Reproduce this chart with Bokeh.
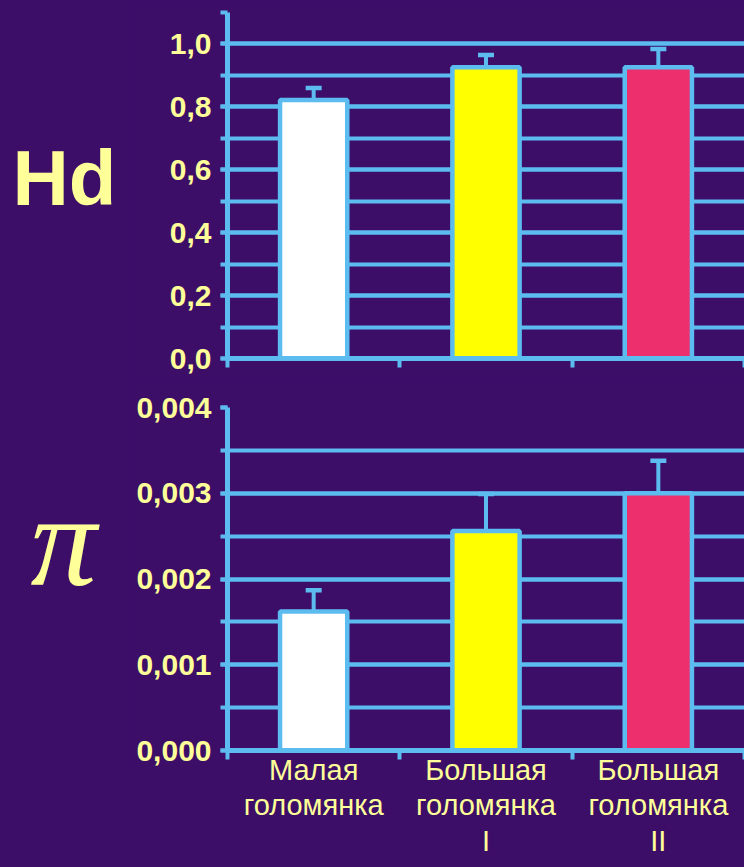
from bokeh.plotting import figure
from bokeh.models import (Range1d, FixedTicker, CustomJSTickFormatter, ColumnDataSource,
                          Whisker, TeeHead)
from bokeh.layouts import column, row
from bokeh.embed import file_html
from bokeh.resources import INLINE
from bokeh.core.properties import value

# ---- data ----
categories = ["Малая голомянка", "Большая голомянка I", "Большая голомянка II"]
category_labels = ["Малая\nголомянка", "Большая\nголомянка\nI", "Большая\nголомянка\nII"]
bar_colors = ["#ffffff", "#ffff00", "#ee2f6e"]

hd_values = [0.822, 0.926, 0.926]
hd_upper = [0.860, 0.965, 0.984]
hd_lower = [0.757, 0.895, 0.895]

pi_values = [0.00162, 0.00256, 0.00300]
pi_upper = [0.00187, 0.00299, 0.00338]
pi_lower = [0.00143, 0.00218, 0.00256]

hd_ticks = [0.0, 0.2, 0.4, 0.6, 0.8, 1.0]
hd_minor = [0.0, 0.1, 0.2, 0.3, 0.4, 0.5, 0.6, 0.7, 0.8, 0.9, 1.0, 1.1]
pi_ticks = [0.0, 0.001, 0.002, 0.003, 0.004]
pi_minor = [0.0, 0.0005, 0.001, 0.0015, 0.002, 0.0025, 0.003, 0.0035, 0.004]

panel_titles = ["Hd", "π"]

# ---- style ----
BG = "#3c0e68"
BLUE = "#5cbcf0"
YEL = "#ffff99"
LEFT_W = 130
W = 744 - LEFT_W
H1, H2 = 380, 387
OVERLAP = 14
H3 = 867 - H1 - H2 + OVERLAP

xpos = [i + 0.5 for i in range(len(categories))]


def style_bg(p):
    p.background_fill_color = BG
    p.border_fill_color = BG
    p.outline_line_color = None


def make_fig(height, ymax, ticks, minor, values, upper, lower, decimals,
             border_top, border_bottom):
    p = figure(width=W, height=height, x_range=Range1d(0, 3), y_range=Range1d(0, ymax),
               output_backend="svg", toolbar_location=None,
               min_border_left=227 - LEFT_W, min_border_right=0,
               min_border_top=border_top, min_border_bottom=border_bottom)
    style_bg(p)

    src = ColumnDataSource(dict(x=xpos, top=values, color=bar_colors,
                                upper=upper, lower=lower, cat=categories))
    p.vbar(x="x", top="top", bottom=0, width=0.39, fill_color="color",
           line_color=BLUE, line_width=4.5, source=src)
    wh = Whisker(base="x", upper="upper", lower="lower", source=src,
                 line_color=BLUE, line_width=4,
                 upper_head=TeeHead(size=16, line_color=BLUE, line_width=4.5),
                 lower_head=TeeHead(size=16, line_color=BLUE, line_width=4.5))
    p.add_layout(wh)

    # y axis
    ya = p.yaxis[0]
    ya.ticker = FixedTicker(ticks=ticks, minor_ticks=minor)
    ya.formatter = CustomJSTickFormatter(
        args=dict(d=decimals), code="return tick.toFixed(d).replace('.', ',');")
    ya.axis_line_color = BLUE
    ya.axis_line_width = 5
    ya.major_tick_line_color = BLUE
    ya.major_tick_line_width = 4
    ya.major_tick_in = 0
    ya.major_tick_out = 7
    ya.minor_tick_line_color = BLUE
    ya.minor_tick_line_width = 4
    ya.minor_tick_in = 0
    ya.minor_tick_out = 7
    ya.major_label_text_color = YEL
    ya.major_label_text_font = "Liberation Sans"
    ya.major_label_text_font_style = "bold"
    ya.major_label_text_font_size = "30px"
    ya.major_label_standoff = 9

    # x axis: boundary ticks only, labels drawn in the strip below
    xa = p.xaxis[0]
    xa.ticker = FixedTicker(ticks=xpos, minor_ticks=[0, 1, 2, 3])
    xa.formatter = CustomJSTickFormatter(code="return '';")
    xa.axis_line_color = BLUE
    xa.axis_line_width = 5
    xa.major_tick_line_color = None
    xa.major_tick_out = 0
    xa.major_tick_in = 0
    xa.minor_tick_line_color = BLUE
    xa.minor_tick_line_width = 4
    xa.minor_tick_in = 0
    xa.minor_tick_out = 9
    xa.major_label_text_font_size = "0px"
    xa.major_label_standoff = 0

    p.xgrid.grid_line_color = None
    p.ygrid.ticker = FixedTicker(ticks=ticks, minor_ticks=minor)
    p.ygrid.grid_line_color = BLUE
    p.ygrid.grid_line_width = 4
    p.ygrid.minor_grid_line_color = BLUE
    p.ygrid.minor_grid_line_width = 4
    return p


p1 = make_fig(H1, 1.1, hd_ticks, hd_minor, hd_values, hd_upper, hd_lower, 1, 12, 22)
p2 = make_fig(H2, 0.004, pi_ticks, pi_minor, pi_values, pi_upper, pi_lower, 3, 27, 17)

# category labels strip (transparent, slightly overlapping the chart above),
# sharing the x scale of the charts; y in pixels, downward
strip = figure(width=W, height=H3, x_range=p2.x_range, y_range=Range1d(H3, 0),
               output_backend="svg", toolbar_location=None,
               min_border_left=227 - LEFT_W, min_border_right=0,
               min_border_top=0, min_border_bottom=0)
strip.background_fill_alpha = 0
strip.border_fill_alpha = 0
strip.outline_line_color = None
strip.axis.visible = False
strip.grid.visible = False
strip.margin = (-OVERLAP, 0, 0, 0)
strip.text(x=xpos, y=[0] * len(xpos), text=category_labels, text_color=YEL,
           text_font=value("Liberation Sans"), text_font_size="29px",
           text_line_height=1.12, text_align="center", text_baseline="top")

# left panel with the two quantity symbols (pixel-like coordinates, y downward)
left = figure(width=LEFT_W, height=867, x_range=Range1d(0, LEFT_W), y_range=Range1d(867, 0),
              output_backend="svg", toolbar_location=None, min_border=0)
left.axis.visible = False
left.grid.visible = False
style_bg(left)
left.text(x=[12], y=[177], text=[panel_titles[0]], text_color=YEL,
          text_font=value("Liberation Sans"), text_font_style="bold",
          text_font_size="78px", text_baseline="middle", text_align="left")
left.text(x=[30], y=[540], text=[panel_titles[1]], text_color=YEL,
          text_font=value("Liberation Serif"), text_font_style="italic",
          text_font_size="132px", text_baseline="middle", text_align="left")

layout = row(left, column(p1, p2, strip, spacing=0), spacing=0)
layout.styles = {"background-color": BG}

open("out.html", "w").write(file_html(layout, INLINE))
